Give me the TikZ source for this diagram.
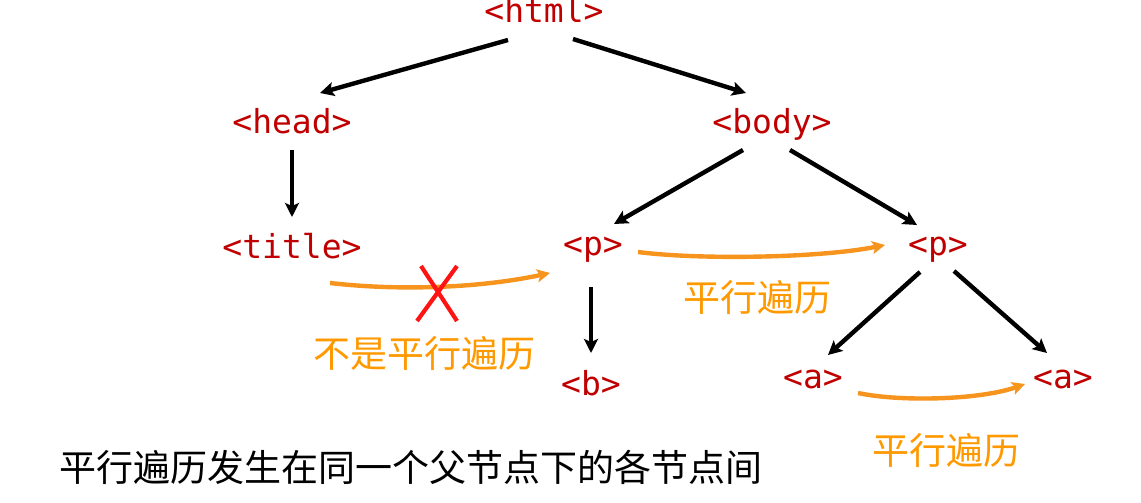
\documentclass[tikz,border=0pt]{standalone}
\usepackage{fontspec}
\setmonofont{DejaVu Sans Mono}
\newfontfamily\cjk{Noto Sans CJK SC}
\usetikzlibrary{arrows.meta}
\definecolor{tagred}{RGB}{192,0,0}
\definecolor{trav}{RGB}{247,148,30}
\definecolor{travtext}{RGB}{255,153,0}
\definecolor{xred}{RGB}{255,20,20}
\tikzset{
  tag/.style={font=\ttfamily\fontsize{33}{33}\selectfont, text=tagred, inner sep=0pt, anchor=base},
  tree/.style={line width=4.4pt, -{Stealth[length=14pt,width=14pt,inset=3pt]}},
  travarrow/.style={line width=4.4pt, draw=trav, -{Stealth[length=13pt,width=13pt,inset=3pt]}},
  travlabel/.style={font=\cjk\fontsize{37}{37}\selectfont, text=travtext, inner sep=0pt},
  note/.style={font=\cjk\fontsize{37}{37}\selectfont, text=black, inner sep=0pt},
  cross/.style={line width=4.2pt, draw=xred}
}
\begin{document}
\begin{tikzpicture}[x=1pt,y=-1pt]
\useasboundingbox[fill=white] (0,0) rectangle (1141,503);
% tag nodes (positioned at baseline)
\node[tag] (html)  at (544,23)  {<html>};
\node[tag] (head)  at (292,133) {<head>};
\node[tag] (body)  at (772,133) {<body>};
\node[tag] (title) at (292,258) {<title>};
\node[tag] (p1)    at (593,255) {<p>};
\node[tag] (p2)    at (938,255) {<p>};
\node[tag] (b)     at (591,395) {<b>};
\node[tag] (a1)    at (813,388) {<a>};
\node[tag] (a2)    at (1063,388) {<a>};
% tree edges
\draw[tree] ([shift={(-36,17)}]html.base) -- ([shift={(28,-40)}]head.base);
\draw[tree] ([shift={(29,16)}]html.base) -- ([shift={(-26,-40)}]body.base);
\draw[tree] ([shift={(0,17)}]head.base) -- ([shift={(0,-41)}]title.base);
\draw[tree] ([shift={(-29,17)}]body.base) -- ([shift={(21,-31)}]p1.base);
\draw[tree] ([shift={(18,17)}]body.base) -- ([shift={(-21,-30)}]p2.base);
\draw[tree] ([shift={(-2,32)}]p1.base) -- ([shift={(0,-42)}]b.base);
\draw[tree] ([shift={(-18,17)}]p2.base) -- ([shift={(15,-33)}]a1.base);
\draw[tree] ([shift={(16,16)}]p2.base) -- ([shift={(-16,-35)}]a2.base);
% traversal arrows
\draw[travarrow] ([shift={(38,25)}]title.base) .. controls (400,291) and (480,288) .. ([shift={(-43,18)}]p1.base);
\draw[travarrow] ([shift={(45,-3)}]p1.base) .. controls (700,260) and (820,258) .. ([shift={(-53,-10)}]p2.base);
\draw[travarrow] ([shift={(45,5)}]a1.base) .. controls (900,402) and (980,400) .. ([shift={(-38,-4)}]a2.base);
% cross
\coordinate (xc) at (437,293);
\draw[cross] ([shift={(-16,-27)}]xc) -- ([shift={(20,28)}]xc);
\draw[cross] ([shift={(20,-27)}]xc) -- ([shift={(-20,28)}]xc);
% labels
\node[travlabel] (notpar) at (424,353) {不是平行遍历};
\node[travlabel] (par1) at (757,297) {平行遍历};
\node[travlabel] (par2) at (946,450) {平行遍历};
\node[note] (caption) at (411,467) {平行遍历发生在同一个父节点下的各节点间};
\end{tikzpicture}
\end{document}
